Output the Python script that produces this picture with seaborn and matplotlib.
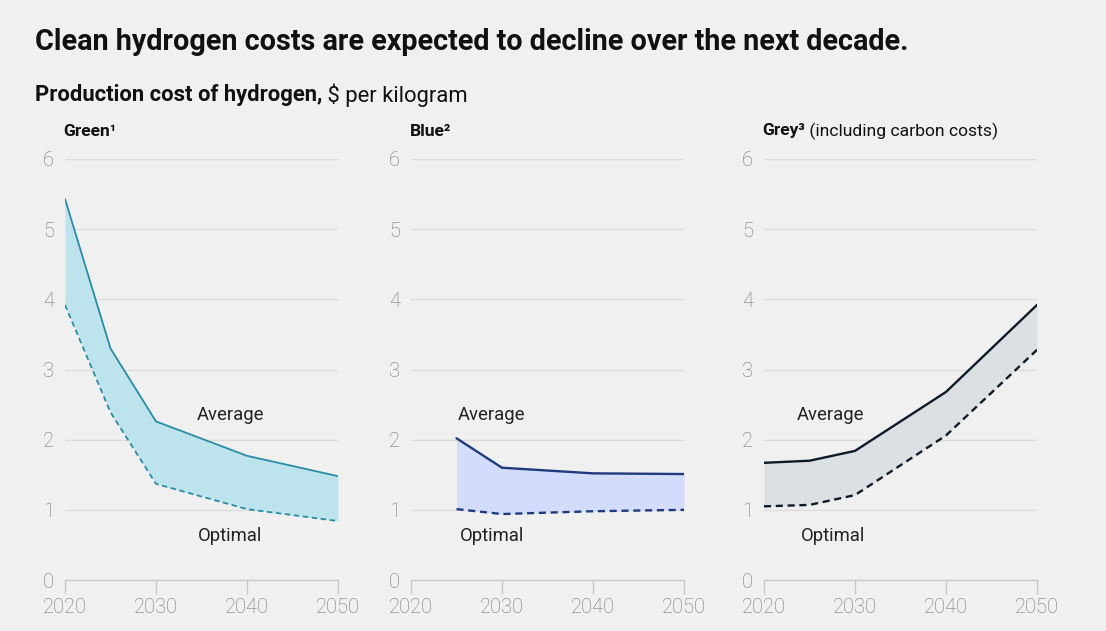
import matplotlib
matplotlib.use("Agg")
import matplotlib.pyplot as plt
import seaborn as sns
import pandas as pd

# ---- data ----
years_green = [2020, 2025, 2030, 2040, 2050]
green_avg = [5.43, 3.30, 2.26, 1.77, 1.48]
green_opt = [3.92, 2.39, 1.37, 1.01, 0.84]

years_blue = [2025, 2030, 2040, 2050]
blue_avg = [2.02, 1.60, 1.52, 1.51]
blue_opt = [1.01, 0.94, 0.98, 1.00]

years_grey = [2020, 2025, 2030, 2040, 2050]
grey_avg = [1.67, 1.70, 1.84, 2.68, 3.92]
grey_opt = [1.05, 1.07, 1.21, 2.06, 3.28]

xticks = [2020, 2030, 2040, 2050]
yticks = [0, 1, 2, 3, 4, 5, 6]

panel_titles = ["Green\u00b9", "Blue\u00b2", "Grey\u00b3"]
panel_title_extra = ["", "", " (including carbon costs)"]

sns.set_theme(style="white")
plt.rcParams['font.family'] = ['Roboto', 'DejaVu Sans']

BG = "#f0f0f0"
W, H = 1106, 631
fig = plt.figure(figsize=(W / 100, H / 100), dpi=100, facecolor=BG)

panels = [
    (years_green, green_avg, green_opt, "#2b8da5", "#bde3ec", 65),
    (years_blue, blue_avg, blue_opt, "#1f3b7e", "#d3dcfa", 411),
    (years_grey, grey_avg, grey_opt, "#0e1a28", "#dde0e3", 764),
]
# (x of Average, x of Optimal, horizontal alignment)
label_pos = [(2038.2, 2038.1, "center"), (2025.1, 2025.4, "left"), (2023.6, 2024.0, "left")]

y0px, y6px = 580, 159
for i, (yrs, avg, opt, lc, fc, x0) in enumerate(panels):
    ax = fig.add_axes([x0 / W, 1 - y0px / H, 273 / W, (y0px - y6px) / H])
    ax.set_facecolor(BG)
    df = pd.DataFrame({"year": yrs + yrs,
                       "value": avg + opt,
                       "kind": ["Average"] * len(yrs) + ["Optimal"] * len(yrs)})
    ax.fill_between(yrs, opt, avg, color=fc, linewidth=0, zorder=1)
    lw = 1.3 if i == 0 else 1.7
    sns.lineplot(data=df[df.kind == "Average"], x="year", y="value", ax=ax,
                 color=lc, linewidth=lw, zorder=3)
    sns.lineplot(data=df[df.kind == "Optimal"], x="year", y="value", ax=ax,
                 color=lc, linewidth=lw, linestyle=(0, (3, 2)), zorder=3)
    ax.set_xlim(2020, 2050)
    ax.set_ylim(0, 6)
    ax.set_xticks(xticks)
    ax.set_yticks(yticks)
    ax.set_xlabel("")
    ax.set_ylabel("")
    ax.grid(axis="y", color="#dcdcdc", linewidth=1.0, zorder=0)
    ax.set_axisbelow(True)
    for s in ["top", "right", "left"]:
        ax.spines[s].set_visible(False)
    ax.spines["bottom"].set_color("#c8c8c8")
    ax.spines["bottom"].set_linewidth(1.0)
    ax.tick_params(axis="x", length=10, width=1.0, color="#c8c8c8", pad=3,
                   labelsize=14.5, labelcolor="#777777", direction="out", bottom=True)
    ax.tick_params(axis="y", length=0, pad=8, labelsize=14.5, labelcolor="#777777", left=False)
    for lab in ax.get_xticklabels() + ax.get_yticklabels():
        lab.set_fontweight("light")
    ax.text(label_pos[i][0], 2.35, "Average", ha=label_pos[i][2],
            va="center", fontsize=13.3, color="#222222")
    ax.text(label_pos[i][1], 0.63, "Optimal", ha=label_pos[i][2],
            va="center", fontsize=13.3, color="#222222")

# titles
fig.text(35 / W, 1 - 42 / H, "Clean hydrogen costs are expected to decline over the next decade.",
         fontsize=20.7, fontweight="bold", color="#111111", va="center", ha="left")

renderer = fig.canvas.get_renderer()

def two_part(xpx, ypx, bold, regular, size):
    t = fig.text(xpx / W, 1 - ypx / H, bold, fontsize=size, fontweight="bold",
                 color="#111111", va="center", ha="left")
    if regular:
        bb = t.get_window_extent(renderer=renderer)
        fig.text(bb.x1 / W, 1 - ypx / H, regular, fontsize=size, fontweight="normal",
                 color="#111111", va="center", ha="left")

two_part(35, 95, "Production cost of hydrogen,", " \\$ per kilogram", 15.8)
for i, x0 in enumerate([63, 410, 762]):
    two_part(x0, 131, panel_titles[i], panel_title_extra[i], 12.6)

fig.savefig("out.png", dpi=100, facecolor=BG)
